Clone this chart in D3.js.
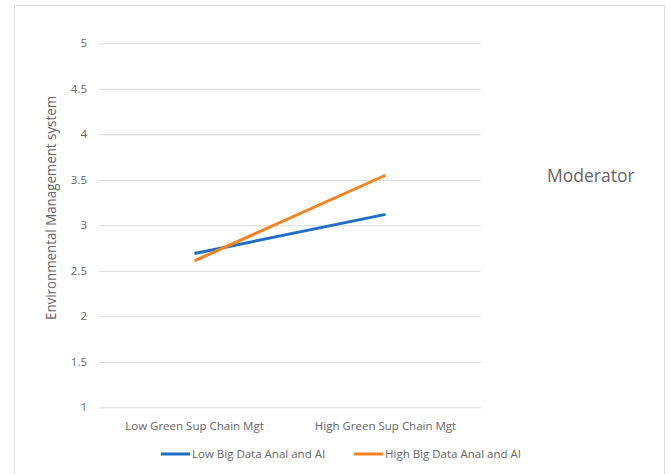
<!DOCTYPE html>
<html><head><meta charset="utf-8">
<script src="https://cdn.jsdelivr.net/npm/d3@7"></script>
<style>body{margin:0;background:#fff}svg{display:block}text{font-family:"Open Sans",sans-serif;fill:#666}</style>
</head><body><svg id="c" width="670" height="474"></svg>
<script>
const categories = ["Low Green Sup Chain Mgt", "High Green Sup Chain Mgt"];
const seriesNames = ["Low Big Data Anal and AI", "High Big Data Anal and AI"];
const lowBigData = [2.69, 3.12];
const highBigData = [2.61, 3.55];
const yTicks = [1, 1.5, 2, 2.5, 3, 3.5, 4, 4.5, 5];
const colors = ["#1f6fc5", "#f7821f"];

const svg = d3.select("#c");
svg.append("rect").attr("x",14.5).attr("y",5.5).attr("width",650).attr("height",475)
  .attr("fill","#fff").attr("stroke","#d9d9d9");

const x = d3.scaleBand().domain(categories).range([99,481]);
const y = d3.scaleLinear().domain([1,5]).range([407.3,43.3]);

const yAx = svg.append("g").attr("transform","translate(99,0)")
  .call(d3.axisLeft(y).tickValues(yTicks).tickSize(-382).tickFormat(d3.format("")));
yAx.select(".domain").remove();
yAx.selectAll("line").attr("stroke","#d9d9d9");
yAx.selectAll("text").attr("x",-12).style("font-size","11.5px").style("fill","#6a6a6a");

const xAx = svg.append("g").attr("transform","translate(0,407.3)")
  .call(d3.axisBottom(x).tickSize(0));
xAx.select(".domain").remove();
xAx.selectAll("text").attr("dy","0").attr("y",23).style("font-size","11.5px").style("fill","#666");

const line = d3.line().x((d,i)=>x(categories[i])+x.bandwidth()/2).y(d=>y(d));
[lowBigData, highBigData].forEach((s,k)=>{
  svg.append("path").datum(s).attr("d",line).attr("fill","none")
    .attr("stroke",colors[k]).attr("stroke-width",3);
});

svg.append("text").attr("transform","translate(56,208) rotate(-90)")
  .attr("text-anchor","middle").style("font-size","14px")
  .attr("textLength",224).attr("lengthAdjust","spacingAndGlyphs")
  .text("Environmental Management system");

svg.append("text").attr("x",547).attr("y",182).style("font-size","17.5px").text("Moderator");

const legX = [161, 354];
seriesNames.forEach((n,k)=>{
  svg.append("line").attr("x1",legX[k]).attr("x2",legX[k]+29).attr("y1",454).attr("y2",454)
    .attr("stroke",colors[k]).attr("stroke-width",3);
  svg.append("text").attr("x",legX[k]+31).attr("y",458).style("font-size","11.5px").text(n);
});
</script></body></html>
